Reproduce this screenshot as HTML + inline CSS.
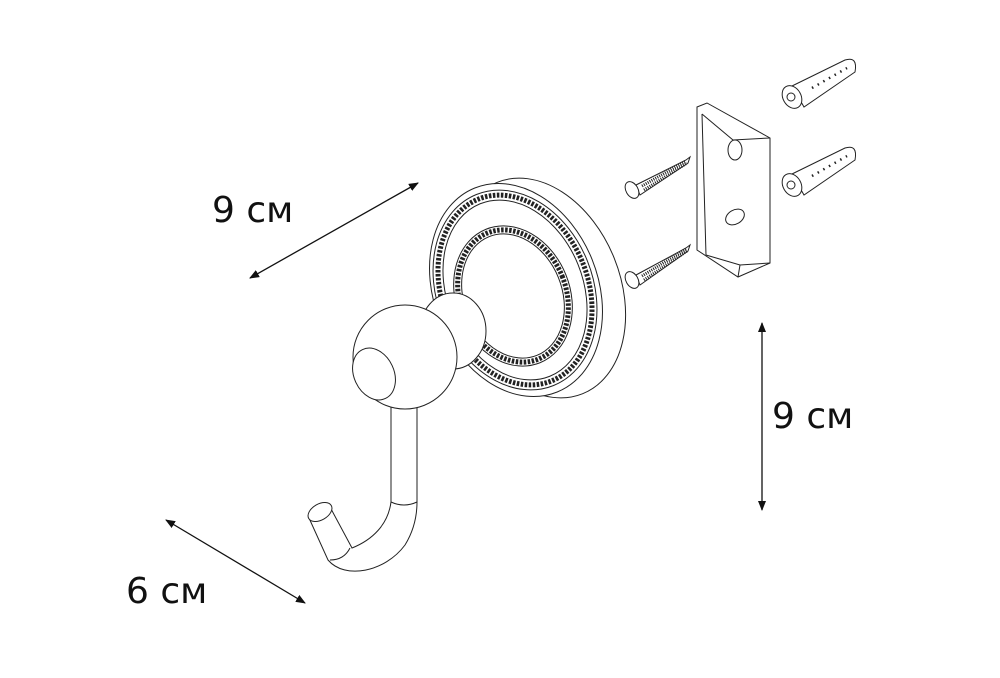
<!DOCTYPE html>
<html><head><meta charset="utf-8"><style>
html,body{margin:0;padding:0;background:#fff;}
svg{display:block}
text{font-family:"DejaVu Sans","Liberation Sans",sans-serif;font-size:36px;fill:#111}
</style></head><body>
<svg width="1000" height="678" viewBox="0 0 1000 678" xmlns="http://www.w3.org/2000/svg">
<defs>
<marker id="ah" markerWidth="10" markerHeight="8" refX="9" refY="4" orient="auto-start-reverse" markerUnits="userSpaceOnUse">
<path d="M0,0 L10,4 L0,8 z" fill="#111"/></marker>
</defs>
<g stroke="#111" fill="none" stroke-width="1.3">
<line x1="250" y1="278" x2="418" y2="183" marker-start="url(#ah)" marker-end="url(#ah)"/>
<line x1="166" y1="520" x2="305" y2="603" marker-start="url(#ah)" marker-end="url(#ah)"/>
<line x1="762" y1="323" x2="762" y2="510" marker-start="url(#ah)" marker-end="url(#ah)"/>
</g>
<text x="212" y="222">9 см</text>
<text x="772" y="428">9 см</text>
<text x="126" y="603">6 см</text>

<g stroke="#222" fill="#fff" stroke-width="1">
<!-- back disc -->
<ellipse cx="540" cy="288" rx="80" ry="114" transform="rotate(-22 540 288)"/>
<ellipse cx="516" cy="290" rx="82" ry="110" transform="rotate(-22 516 290)"/>
<!-- outer bead ring -->
<ellipse cx="515" cy="290" rx="78" ry="103" transform="rotate(-22 515 290)"/>
<ellipse cx="515" cy="290" rx="73" ry="98" transform="rotate(-22 515 290)" fill="none" stroke-width="5" stroke-dasharray="2.5 1.5"/>
<ellipse cx="515" cy="290" rx="68" ry="93" transform="rotate(-22 515 290)"/>
<!-- inner bead ring -->
<ellipse cx="513" cy="296" rx="57" ry="72" transform="rotate(-22 513 296)"/>
<ellipse cx="513" cy="296" rx="53" ry="68" transform="rotate(-22 513 296)" fill="none" stroke-width="5" stroke-dasharray="2.5 1.5"/>
<ellipse cx="513" cy="296" rx="49" ry="64" transform="rotate(-22 513 296)"/>
<!-- neck ball -->
<ellipse cx="453" cy="331" rx="33" ry="38"/>
<!-- hook -->
<path d="M391,395 L391,502 C388,525 372,540 352,548 L330,507 Q318,512 309,518 L328,560 C345,580 385,572 405,545 C413,532 417,518 417,502 L417,395 Z"/>
<path d="M391,502 Q404,508 417,502" fill="none"/>
<path d="M330,560 Q344,560 350,548" fill="none"/>
<ellipse cx="320" cy="512" rx="13" ry="8" transform="rotate(-30 320 512)"/>
<!-- big ball -->
<circle cx="405" cy="357" r="52"/>
<ellipse cx="374" cy="374" rx="20" ry="27" transform="rotate(-25 374 374)"/>
<!-- bracket -->
<path d="M697,107 L707,103 L770,138 L770,263 L738,277 L697,250 Z"/>
<path d="M702,114 L706,255 M702,114 L733,140 L770,138 M706,255 L740,265 L770,263 M740,265 L738,277" fill="none"/>
<ellipse cx="735" cy="150" rx="7" ry="10"/>
<ellipse cx="735" cy="217" rx="10" ry="7" transform="rotate(-30 735 217)"/>
<!-- screws -->
<g>
<path d="M636,185 L686,160 L690,157 L688,163 L640,195 Z"/>
<path d="M642,186 L686,161 M644,190 L687,163" stroke-width="3" stroke-dasharray="1 1.2" fill="none"/>
<ellipse cx="632" cy="190" rx="6" ry="9" transform="rotate(-30 632 190)"/>
</g>
<g>
<path d="M636,275 L686,248 L690,245 L688,251 L640,285 Z"/>
<path d="M642,276 L686,249 M644,280 L687,251" stroke-width="3" stroke-dasharray="1 1.2" fill="none"/>
<ellipse cx="632" cy="280" rx="6" ry="9" transform="rotate(-30 632 280)"/>
</g>
<!-- anchors -->
<g>
<path d="M792,86 L845,60 Q858,56 855,72 L804,107 Z"/>
<ellipse cx="792" cy="97" rx="9" ry="12" transform="rotate(-30 792 97)"/>
<circle cx="791" cy="97" r="4"/>
<path d="M812,88 L847,68" stroke-dasharray="1.5 5" stroke-width="2.5" fill="none"/>
</g>
<g>
<path d="M792,174 L845,148 Q858,144 855,160 L804,195 Z"/>
<ellipse cx="792" cy="185" rx="9" ry="12" transform="rotate(-30 792 185)"/>
<circle cx="791" cy="185" r="4"/>
<path d="M812,176 L847,156" stroke-dasharray="1.5 5" stroke-width="2.5" fill="none"/>
</g>
</g>
</svg>
</body></html>
